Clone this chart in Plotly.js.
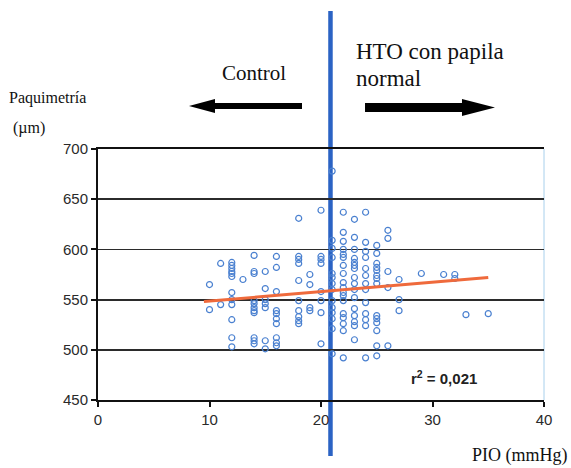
<!DOCTYPE html>
<html>
<head>
<meta charset="utf-8">
<script src="https://cdn.plot.ly/plotly-3.0.1.min.js"></script>
<style>html,body{margin:0;padding:0;background:#fff;}#chart{width:571px;height:468px;}</style>
</head>
<body>
<div id="chart"></div>
<script>
// PIO (mmHg) levels and the paquimetría (µm) values observed at each level
const pioLevels = [10, 11, 12, 13, 14, 15, 16, 18, 19, 20, 21, 22, 23, 24, 25, 26, 27, 29, 31, 32, 33, 35];
const paqByPio = [
  [565, 540],
  [586, 545],
  [587, 584, 581, 578, 576, 573, 557, 550, 545, 530, 512, 503],
  [570],
  [594, 578, 576, 549, 546, 542, 539, 537, 512, 509, 506],
  [578, 561, 550, 546, 542, 509, 501],
  [593, 582, 558, 539, 536, 531, 526, 512, 507, 504],
  [631, 593, 590, 586, 569, 549, 539, 533, 529, 526],
  [575, 565, 542, 539],
  [639, 593, 590, 586, 558, 549, 537, 506],
  [678, 609, 601, 592, 576, 572, 566, 560, 549, 542, 537, 531, 521, 496],
  [637, 617, 608, 600, 595, 592, 584, 576, 567, 562, 557, 554, 549, 536, 532, 526, 519, 492],
  [630, 612, 600, 591, 587, 584, 581, 572, 566, 560, 552, 541, 534, 528, 524, 510],
  [637, 607, 598, 592, 581, 574, 566, 560, 547, 536, 530, 524, 492],
  [604, 596, 586, 582, 579, 574, 571, 566, 534, 531, 527, 519, 504, 494],
  [619, 611, 578, 562, 504],
  [570, 550, 539],
  [576],
  [575],
  [575, 571],
  [535],
  [536]
];
// regression line
const trendX = [9.5, 35];
const trendY = [548, 572];
const r2Label = 'r<sup>2</sup> = 0,021';
// divider between groups
const dividerPio = 20.85;
const xTicks = [0, 10, 20, 30, 40];
const yTicks = [450, 500, 550, 600, 650, 700];
const xRange = [0, 40];
const yRange = [450, 700];

const xs = [], ys = [];
pioLevels.forEach((p, i) => paqByPio[i].forEach(v => { xs.push(p); ys.push(v); }));

// plot area in pixels (for decorations only)
const W = 571, H = 468, L = 98, R = 27, T = 149, B = 68;
const pw = W - L - R, ph = H - T - B;
const px = v => (v - L) / pw;
const py = v => (H - B - v) / ph;

function arrowPath(pts) {
  return 'M' + pts.map(p => px(p[0]).toFixed(4) + ',' + py(p[1]).toFixed(4)).join(' L') + ' Z';
}
const leftArrow = arrowPath([[189,106],[215,99],[215,103],[302,103],[302,109],[215,109],[215,113]]);
const rightArrow = arrowPath([[365,103],[462,103],[462,99],[495,107.5],[462,116],[462,112],[365,112]]);

const serif = 'Liberation Serif, Times New Roman, serif';
const sans = 'Liberation Sans, Arial, sans-serif';

const traces = [
  {
    x: xs, y: ys, type: 'scatter', mode: 'markers',
    marker: {symbol: 'circle-open', size: 6, color: '#4a80d0', line: {width: 1.2, color: '#4a80d0'}},
    hoverinfo: 'x+y', showlegend: false
  },
  {
    x: trendX, y: trendY, type: 'scatter', mode: 'lines',
    line: {color: '#ef6a3c', width: 3}, showlegend: false, hoverinfo: 'skip'
  }
];

const layout = {
  width: W, height: H,
  margin: {l: L, r: R, t: T, b: B, pad: 0},
  paper_bgcolor: '#ffffff',
  plot_bgcolor: 'rgba(0,0,0,0)',
  showlegend: false,
  xaxis: {
    range: xRange, tickvals: xTicks, ticktext: xTicks.map(String),
    showgrid: false, zeroline: false,
    showline: true, linecolor: '#111', linewidth: 2, mirror: true,
    ticks: 'outside', ticklen: 5, tickwidth: 2, tickcolor: '#111',
    tickfont: {family: sans, size: 15, color: '#2a2a2a'}, fixedrange: true
  },
  yaxis: {
    range: yRange, tickvals: yTicks, ticktext: yTicks.map(String),
    showgrid: true, gridcolor: '#2b2b2b', gridwidth: 1.8, zeroline: false,
    showline: true, linecolor: '#111', linewidth: 2,
    ticks: 'outside', ticklen: 5, tickwidth: 2, tickcolor: '#111',
    tickfont: {family: sans, size: 15, color: '#2a2a2a'}, fixedrange: true
  },
  shapes: [
    {type: 'line', xref: 'paper', yref: 'paper', x0: dividerPio / xRange[1], x1: dividerPio / xRange[1],
     y0: py(456), y1: py(11), line: {color: '#2b63c4', width: 4.5}, layer: 'below'},
    {type: 'line', xref: 'paper', yref: 'paper', x0: 1, x1: 1, y0: 0, y1: 1,
     line: {color: '#a8d0ec', width: 1}, layer: 'below'},
    {type: 'path', xref: 'paper', yref: 'paper', path: leftArrow, fillcolor: '#000', line: {width: 0}},
    {type: 'path', xref: 'paper', yref: 'paper', path: rightArrow, fillcolor: '#000', line: {width: 0}}
  ],
  annotations: [
    {xref: 'paper', yref: 'paper', x: px(254), y: py(73), text: 'Control', showarrow: false,
     xanchor: 'center', yanchor: 'middle', font: {family: serif, size: 21, color: '#111'}},
    {xref: 'paper', yref: 'paper', x: px(354), y: py(52), text: 'HTO con papila', showarrow: false,
     xanchor: 'left', yanchor: 'middle', font: {family: serif, size: 23, color: '#111'}},
    {xref: 'paper', yref: 'paper', x: px(354), y: py(78), text: 'normal', showarrow: false,
     xanchor: 'left', yanchor: 'middle', font: {family: serif, size: 23, color: '#111'}},
    {xref: 'paper', yref: 'paper', x: px(7), y: py(98), text: 'Paquimetría', showarrow: false,
     xanchor: 'left', yanchor: 'middle', font: {family: serif, size: 16, color: '#111'}},
    {xref: 'paper', yref: 'paper', x: px(11), y: py(128), text: '(µm)', showarrow: false,
     xanchor: 'left', yanchor: 'middle', font: {family: serif, size: 16, color: '#111'}},
    {xref: 'paper', yref: 'paper', x: px(570), y: py(455), text: 'PIO (mmHg)', showarrow: false,
     xanchor: 'right', yanchor: 'middle', font: {family: serif, size: 18, color: '#111'}},
    {xref: 'paper', yref: 'paper', x: px(409), y: py(377), text: r2Label, showarrow: false,
     xanchor: 'left', yanchor: 'middle', font: {family: sans, size: 15, color: '#222', weight: 'bold'}}
  ]
};

Plotly.newPlot('chart', traces, layout, {displayModeBar: false, staticPlot: true});
</script>
</body>
</html>
